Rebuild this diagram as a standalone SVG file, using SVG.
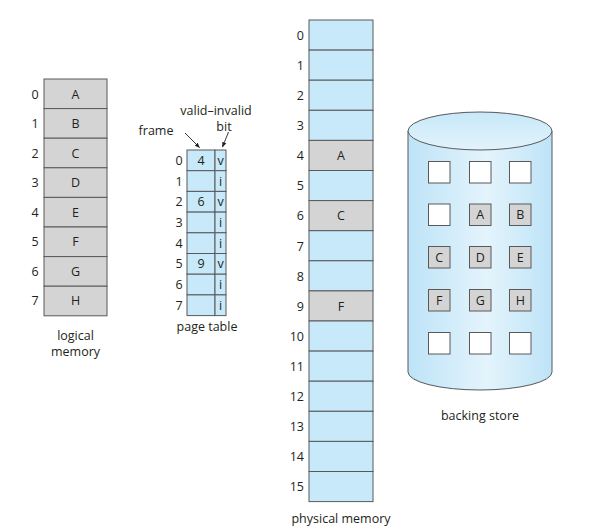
<svg xmlns="http://www.w3.org/2000/svg" width="589" height="530" viewBox="0 0 589 530">
<defs>
<linearGradient id="cyl" x1="0" y1="0" x2="1" y2="0">
<stop offset="0" stop-color="#bde3f7"/>
<stop offset="0.55" stop-color="#e4f4fc"/>
<stop offset="1" stop-color="#bde3f7"/>
</linearGradient>
<linearGradient id="cyltop" x1="0" y1="0" x2="0" y2="1">
<stop offset="0" stop-color="#c7e8f9"/>
<stop offset="1" stop-color="#e2f3fc"/>
</linearGradient>
<marker id="ah" viewBox="0 0 10 10" refX="9" refY="5" markerWidth="6" markerHeight="6" orient="auto">
<path d="M0,1 L10,5 L0,9 z" fill="#231f20"/>
</marker>
</defs>
<style>
text{font-family:"Open Sans","Liberation Sans",sans-serif;font-size:12.5px;fill:#231f20}
.c{text-anchor:middle}
.r{text-anchor:end}
.g{fill:#d4d4d4;stroke:#58595b;stroke-width:1}
.b{fill:#c7e9fa;stroke:#58595b;stroke-width:1}
.w{fill:#ffffff;stroke:#58595b;stroke-width:1}
.arr{stroke:#231f20;stroke-width:0.9;fill:none;marker-end:url(#ah)}
</style>
<rect width="589" height="530" fill="#ffffff"/>

<g id="logical-memory">
<rect class="g" x="44" y="79" width="63" height="29.6"/>
<rect class="g" x="44" y="108.6" width="63" height="29.6"/>
<rect class="g" x="44" y="138.2" width="63" height="29.6"/>
<rect class="g" x="44" y="167.8" width="63" height="29.6"/>
<rect class="g" x="44" y="197.4" width="63" height="29.6"/>
<rect class="g" x="44" y="227" width="63" height="29.6"/>
<rect class="g" x="44" y="256.6" width="63" height="29.6"/>
<rect class="g" x="44" y="286.2" width="63" height="29.6"/>
<text class="c" x="75.5" y="98.5">A</text>
<text class="c" x="75.5" y="128">B</text>
<text class="c" x="75.5" y="157.5">C</text>
<text class="c" x="75.5" y="187">D</text>
<text class="c" x="75.5" y="216.5">E</text>
<text class="c" x="75.5" y="246">F</text>
<text class="c" x="75.5" y="275.5">G</text>
<text class="c" x="75.5" y="305">H</text>
<text class="c" x="35" y="98.5">0</text>
<text class="c" x="35" y="128">1</text>
<text class="c" x="35" y="157.5">2</text>
<text class="c" x="35" y="187">3</text>
<text class="c" x="35" y="216.5">4</text>
<text class="c" x="35" y="246">5</text>
<text class="c" x="35" y="275.5">6</text>
<text class="c" x="35" y="305">7</text>
<text class="c" x="75.5" y="339.5">logical</text>
<text class="c" x="75.5" y="355.5">memory</text>
</g>

<g id="page-table">
<rect class="b" x="187" y="150" width="28" height="20.7"/>
<rect class="b" x="215" y="150" width="11" height="20.7"/>
<rect class="b" x="187" y="170.7" width="28" height="20.7"/>
<rect class="b" x="215" y="170.7" width="11" height="20.7"/>
<rect class="b" x="187" y="191.4" width="28" height="20.7"/>
<rect class="b" x="215" y="191.4" width="11" height="20.7"/>
<rect class="b" x="187" y="212.1" width="28" height="20.7"/>
<rect class="b" x="215" y="212.1" width="11" height="20.7"/>
<rect class="b" x="187" y="232.8" width="28" height="20.7"/>
<rect class="b" x="215" y="232.8" width="11" height="20.7"/>
<rect class="b" x="187" y="253.5" width="28" height="20.7"/>
<rect class="b" x="215" y="253.5" width="11" height="20.7"/>
<rect class="b" x="187" y="274.2" width="28" height="20.7"/>
<rect class="b" x="215" y="274.2" width="11" height="20.7"/>
<rect class="b" x="187" y="294.9" width="28" height="20.7"/>
<rect class="b" x="215" y="294.9" width="11" height="20.7"/>
<text class="c" x="201" y="164.8">4</text>
<text class="c" x="201" y="206.2">6</text>
<text class="c" x="201" y="268.3">9</text>
<text class="c" x="220.5" y="164.8">v</text>
<text class="c" x="220.5" y="185.5">i</text>
<text class="c" x="220.5" y="206.2">v</text>
<text class="c" x="220.5" y="226.9">i</text>
<text class="c" x="220.5" y="247.6">i</text>
<text class="c" x="220.5" y="268.3">v</text>
<text class="c" x="220.5" y="289">i</text>
<text class="c" x="220.5" y="309.7">i</text>
<text class="c" x="179" y="164.8">0</text>
<text class="c" x="179" y="185.5">1</text>
<text class="c" x="179" y="206.2">2</text>
<text class="c" x="179" y="226.9">3</text>
<text class="c" x="179" y="247.6">4</text>
<text class="c" x="179" y="268.3">5</text>
<text class="c" x="179" y="289">6</text>
<text class="c" x="179" y="309.7">7</text>
<text class="c" x="207" y="331">page table</text>
<text class="c" x="216" y="115">valid–invalid</text>
<text class="c" x="224" y="131">bit</text>
<text class="c" x="156" y="135">frame</text>
</g>

<g id="physical-memory">
<rect class="b" x="309" y="20" width="64" height="30.1"/>
<rect class="b" x="309" y="50.1" width="64" height="30.1"/>
<rect class="b" x="309" y="80.2" width="64" height="30.1"/>
<rect class="b" x="309" y="110.3" width="64" height="30.1"/>
<rect class="g" x="309" y="140.4" width="64" height="30.1"/>
<rect class="b" x="309" y="170.5" width="64" height="30.1"/>
<rect class="g" x="309" y="200.6" width="64" height="30.1"/>
<rect class="b" x="309" y="230.7" width="64" height="30.1"/>
<rect class="b" x="309" y="260.8" width="64" height="30.1"/>
<rect class="g" x="309" y="290.9" width="64" height="30.1"/>
<rect class="b" x="309" y="321" width="64" height="30.1"/>
<rect class="b" x="309" y="351.1" width="64" height="30.1"/>
<rect class="b" x="309" y="381.2" width="64" height="30.1"/>
<rect class="b" x="309" y="411.3" width="64" height="30.1"/>
<rect class="b" x="309" y="441.4" width="64" height="30.1"/>
<rect class="b" x="309" y="471.5" width="64" height="30.1"/>
<text class="c" x="341" y="160">A</text>
<text class="c" x="341" y="220">C</text>
<text class="c" x="341" y="310.5">F</text>
<text class="r" x="304" y="39.5">0</text>
<text class="r" x="304" y="69.5">1</text>
<text class="r" x="304" y="99.5">2</text>
<text class="r" x="304" y="130">3</text>
<text class="r" x="304" y="160">4</text>
<text class="r" x="304" y="190">5</text>
<text class="r" x="304" y="220">6</text>
<text class="r" x="304" y="250.5">7</text>
<text class="r" x="304" y="280.5">8</text>
<text class="r" x="304" y="310.5">9</text>
<text class="r" x="304" y="340.5">10</text>
<text class="r" x="304" y="370.5">11</text>
<text class="r" x="304" y="401">12</text>
<text class="r" x="304" y="431">13</text>
<text class="r" x="304" y="461">14</text>
<text class="r" x="304" y="491">15</text>
<text class="c" x="341" y="523">physical memory</text>
</g>

<g id="backing-store">
<path d="M408,131 L408,372 A72,18 0 0 0 552,372 L552,131 Z" fill="url(#cyl)" stroke="#58595b" stroke-width="1"/>
<ellipse cx="480" cy="131" rx="72" ry="19" fill="url(#cyltop)" stroke="#58595b" stroke-width="1"/>
<rect class="w" x="428.5" y="161.5" width="21.5" height="21.5"/>
<rect class="w" x="469.5" y="161.5" width="21.5" height="21.5"/>
<rect class="w" x="509.5" y="161.5" width="21.5" height="21.5"/>
<rect class="w" x="428.5" y="204" width="21.5" height="21.5"/>
<rect class="g" x="469.5" y="204" width="21.5" height="21.5"/>
<rect class="g" x="509.5" y="204" width="21.5" height="21.5"/>
<rect class="g" x="428.5" y="246.5" width="21.5" height="21.5"/>
<rect class="g" x="469.5" y="246.5" width="21.5" height="21.5"/>
<rect class="g" x="509.5" y="246.5" width="21.5" height="21.5"/>
<rect class="g" x="428.5" y="289.5" width="21.5" height="21.5"/>
<rect class="g" x="469.5" y="289.5" width="21.5" height="21.5"/>
<rect class="g" x="509.5" y="289.5" width="21.5" height="21.5"/>
<rect class="w" x="428.5" y="332.5" width="21.5" height="21.5"/>
<rect class="w" x="469.5" y="332.5" width="21.5" height="21.5"/>
<rect class="w" x="509.5" y="332.5" width="21.5" height="21.5"/>
<text class="c" x="480.25" y="219.2">A</text>
<text class="c" x="520.25" y="219.2">B</text>
<text class="c" x="439.25" y="261.7">C</text>
<text class="c" x="480.25" y="261.7">D</text>
<text class="c" x="520.25" y="261.7">E</text>
<text class="c" x="439.25" y="304.7">F</text>
<text class="c" x="480.25" y="304.7">G</text>
<text class="c" x="520.25" y="304.7">H</text>
<text class="c" x="480" y="420">backing store</text>
</g>

<g id="connectors">
<line class="arr" x1="185" y1="133" x2="199.5" y2="147.5"/>
<line class="arr" x1="228.5" y1="132" x2="222.5" y2="147"/>
</g>
</svg>
